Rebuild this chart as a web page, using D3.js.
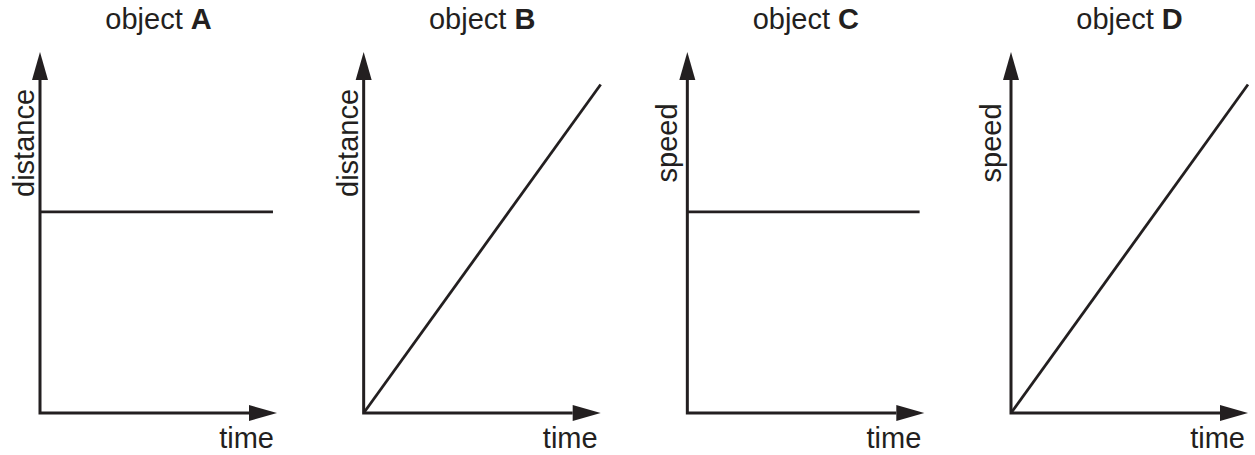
<!DOCTYPE html>
<html>
<head>
<meta charset="utf-8">
<script src="https://cdn.jsdelivr.net/npm/d3@7"></script>
<style>
  html, body { margin: 0; padding: 0; background: #fff; }
  svg { display: block; }
  text { font-family: "Liberation Sans", Arial, Helvetica, sans-serif; fill: #231f20; }
</style>
</head>
<body>
<div id="chart"></div>
<script>
// Datos: cuatro gráficas cualitativas (sin ticks)
const objects = ['A', 'B', 'C', 'D'];
const yLabels = ['distance', 'distance', 'speed', 'speed'];
const xLabel = 'time';
// cada serie: [tiempo, valor] en unidades relativas del eje (0..1)
const lineA = [[0, 0.557], [0.983, 0.557]];
const lineB = [[0, 0], [1.0, 0.91]];
const lineC = [[0, 0.557], [0.98, 0.557]];
const lineD = [[0, 0], [1.0, 0.91]];
const series = [lineA, lineB, lineC, lineD];

const width = 1255;
const height = 455;
const ink = '#231f20';
const fontSize = '29px';

const svg = d3.select('#chart')
    .append('svg')
    .attr('width', width)
    .attr('height', height);

// posición de cada panel (origen del eje y)
const panelX = d3.scalePoint()
    .domain(objects)
    .range([40, 1011]);

const axisLen = 237;
const x = d3.scaleLinear().domain([0, 1]).range([0, axisLen]);
const y = d3.scaleLinear().domain([0, 1]).range([413, 52]);

const line = d3.line()
    .x(d => x(d[0]))
    .y(d => y(d[1]));

const arrowLen = 28;
const arrowHalf = 8;

objects.forEach((name, i) => {
    const g = svg.append('g')
        .attr('transform', `translate(${panelX(name)},0)`);

    // título
    const title = g.append('text')
        .attr('x', x(0.5))
        .attr('y', 29)
        .attr('text-anchor', 'middle')
        .style('font-size', fontSize);
    title.append('tspan').text('object ');
    title.append('tspan').attr('font-weight', 'bold').text(name);

    // ejes
    g.append('path')
        .attr('d', `M${x(0)},${y(1) + arrowLen}V${y(0)}H${x(1) - arrowLen}`)
        .attr('fill', 'none')
        .attr('stroke', ink)
        .attr('stroke-width', 3)
        .attr('stroke-linejoin', 'miter');

    // puntas de flecha
    g.append('path')
        .attr('d', `M${x(0)},${y(1)}L${x(0) - arrowHalf},${y(1) + arrowLen}L${x(0) + arrowHalf},${y(1) + arrowLen}Z`)
        .attr('fill', ink);
    g.append('path')
        .attr('d', `M${x(1)},${y(0)}L${x(1) - arrowLen},${y(0) - arrowHalf}L${x(1) - arrowLen},${y(0) + arrowHalf}Z`)
        .attr('fill', ink);

    // serie
    g.append('path')
        .datum(series[i])
        .attr('d', line)
        .attr('fill', 'none')
        .attr('stroke', ink)
        .attr('stroke-width', 2.8);

    // etiquetas de ejes (las que tienen descendentes se separan un poco más)
    const gap = /[gjpqy]/.test(yLabels[i]) ? 10 : 6;
    g.append('text')
        .attr('transform', `translate(${x(0) - gap},${143}) rotate(-90)`)
        .attr('text-anchor', 'middle')
        .style('font-size', fontSize)
        .text(yLabels[i]);

    g.append('text')
        .attr('x', x(1) - 3)
        .attr('y', 448)
        .attr('text-anchor', 'end')
        .style('font-size', fontSize)
        .text(xLabel);
});
</script>
</body>
</html>
